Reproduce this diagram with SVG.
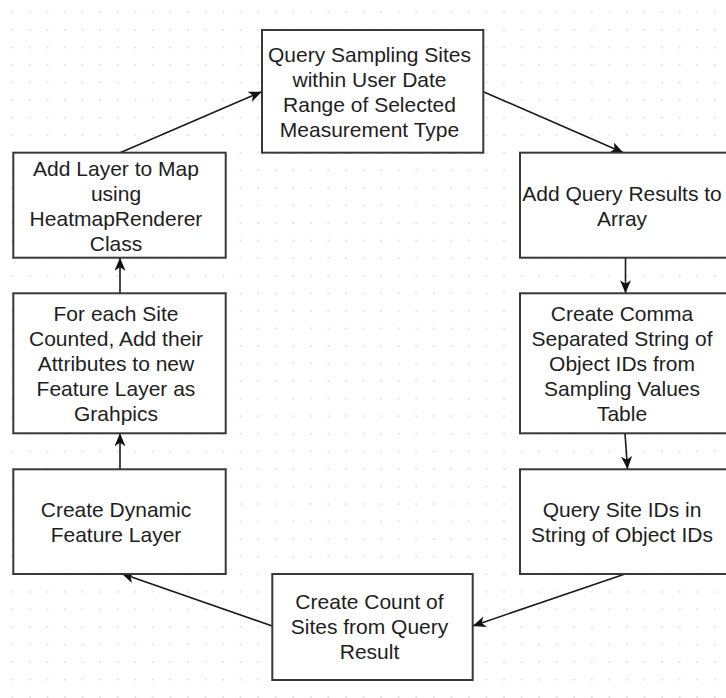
<svg xmlns="http://www.w3.org/2000/svg" width="726" height="698" viewBox="0 0 726 698">
  <defs>
    <pattern id="grid" x="12.3" y="12.3" width="17.56" height="17.56" patternUnits="userSpaceOnUse">
      <rect x="-0.6" y="-0.6" width="1.3" height="1.3" fill="#c4c4c4"/>
      <rect x="16.96" y="-0.6" width="1.3" height="1.3" fill="#c4c4c4"/>
      <rect x="-0.6" y="16.96" width="1.3" height="1.3" fill="#c4c4c4"/>
      <rect x="16.96" y="16.96" width="1.3" height="1.3" fill="#c4c4c4"/>
    </pattern>
    <marker id="arrow" viewBox="0 0 14 11" refX="13" refY="5.5" markerWidth="14" markerHeight="11" markerUnits="userSpaceOnUse" orient="auto">
      <path d="M0,0 L13,5.5 L0,11 L3.5,5.5 Z" fill="#111"/>
    </marker>
    <style>
      .box { fill: #ffffff; stroke: #383838; stroke-width: 2; }
      .lbl { font-family: "Liberation Sans", Arial, sans-serif; font-size: 21px; fill: #1e1e1e; text-anchor: middle; }
      .edge { fill: none; stroke: #1a1a1a; stroke-width: 1.6; marker-end: url(#arrow); }
    </style>
  </defs>

  <rect width="726" height="698" fill="#ffffff"/>
  <rect width="726" height="698" fill="url(#grid)"/>

  <!-- connectors -->
  <g id="connectors">
    <line class="edge" x1="483.3" y1="91.7" x2="623.5" y2="152.7"/>
    <line class="edge" x1="625.5" y1="257.7" x2="625.5" y2="293.3"/>
    <line class="edge" x1="625" y1="433.3" x2="627.5" y2="469.3"/>
    <line class="edge" x1="625" y1="574" x2="472.7" y2="626"/>
    <line class="edge" x1="272.3" y1="626" x2="121.5" y2="573.5"/>
    <line class="edge" x1="120" y1="469.3" x2="120" y2="433.3"/>
    <line class="edge" x1="120" y1="293.3" x2="120" y2="257.7"/>
    <line class="edge" x1="120" y1="152.7" x2="261.7" y2="91.7"/>
  </g>

  <!-- process steps -->
  <g id="query-sites">
    <rect class="box" x="262" y="30" width="221.3" height="122.7"/>
    <text class="lbl" x="369.5" y="61.5">Query Sampling Sites</text>
    <text class="lbl" x="369.5" y="86.5">within User Date</text>
    <text class="lbl" x="369.5" y="111.5">Range of Selected</text>
    <text class="lbl" x="369.5" y="136.5">Measurement Type</text>
  </g>

  <g id="add-results">
    <rect class="box" x="520" y="152.7" width="212" height="105"/>
    <text class="lbl" x="622" y="200.5">Add Query Results to</text>
    <text class="lbl" x="622" y="225.5">Array</text>
  </g>

  <g id="comma-string">
    <rect class="box" x="520" y="293.3" width="212" height="140"/>
    <text class="lbl" x="622" y="321.3">Create Comma</text>
    <text class="lbl" x="622" y="346.3">Separated String of</text>
    <text class="lbl" x="622" y="371.3">Object IDs from</text>
    <text class="lbl" x="622" y="396.3">Sampling Values</text>
    <text class="lbl" x="622" y="421.3">Table</text>
  </g>

  <g id="query-site-ids">
    <rect class="box" x="520" y="469.3" width="212" height="104.7"/>
    <text class="lbl" x="622" y="516.7">Query Site IDs in</text>
    <text class="lbl" x="622" y="541.7">String of Object IDs</text>
  </g>

  <g id="count-sites">
    <rect class="box" x="272.3" y="574" width="200.4" height="106"/>
    <text class="lbl" x="369.5" y="608.8">Create Count of</text>
    <text class="lbl" x="369.5" y="633.8">Sites from Query</text>
    <text class="lbl" x="369.5" y="658.8">Result</text>
  </g>

  <g id="dynamic-layer">
    <rect class="box" x="13.3" y="469.3" width="212.4" height="104.7"/>
    <text class="lbl" x="116" y="516.7">Create Dynamic</text>
    <text class="lbl" x="116" y="541.7">Feature Layer</text>
  </g>

  <g id="add-graphics">
    <rect class="box" x="13.3" y="293.3" width="212.4" height="140"/>
    <text class="lbl" x="116" y="321.3">For each Site</text>
    <text class="lbl" x="116" y="346.3">Counted, Add their</text>
    <text class="lbl" x="116" y="371.3">Attributes to new</text>
    <text class="lbl" x="116" y="396.3">Feature Layer as</text>
    <text class="lbl" x="116" y="421.3">Grahpics</text>
  </g>

  <g id="heatmap-layer">
    <rect class="box" x="13.3" y="152.7" width="212.4" height="105"/>
    <text class="lbl" x="116" y="175.5">Add Layer to Map</text>
    <text class="lbl" x="116" y="200.5">using</text>
    <text class="lbl" x="116" y="225.5">HeatmapRenderer</text>
    <text class="lbl" x="116" y="250.5">Class</text>
  </g>
</svg>
